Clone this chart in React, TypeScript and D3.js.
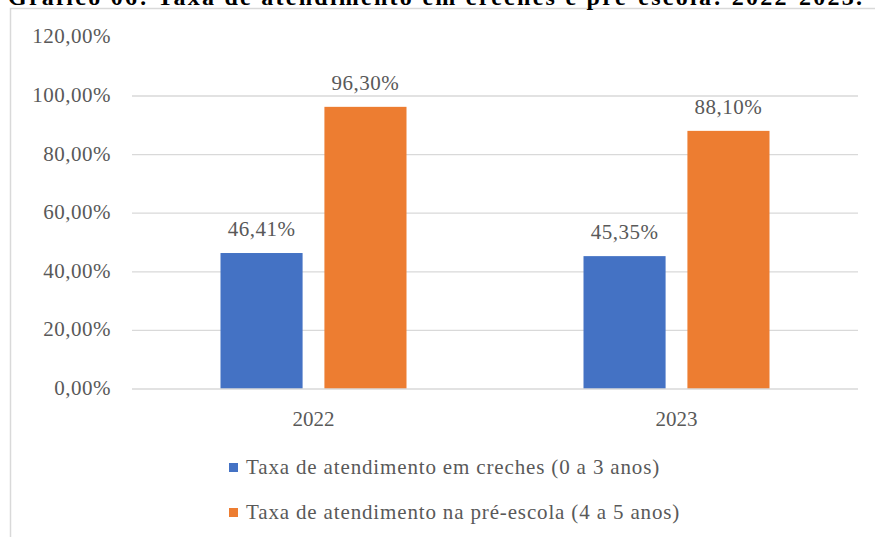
import React, { useRef, useEffect } from 'react';
import * as d3 from 'd3';

const years = ['2022', '2023'];
const series = ['Taxa de atendimento em creches (0 a 3 anos)', 'Taxa de atendimento na pré-escola (4 a 5 anos)'];
const creches = [46.41, 45.35];
const preEscola = [96.3, 88.1];
const yTicks = [0, 20, 40, 60, 80, 100, 120];
const colors = ['#4472C4', '#ED7D31'];
const title = 'Gráfico 06: Taxa de atendimento em creches e pré-escola: 2022-2023.';

const fmt = (v: number) => v.toFixed(2).replace('.', ',') + '%';

export default function App() {
  const svgRef = useRef<SVGSVGElement>(null);

  useEffect(() => {
    const svg = d3.select(svgRef.current);
    svg.selectAll('*').remove();
    const grey = '#595959';

    const left = 132, right = 858, top = 37.4, bottom = 389;
    const y = d3.scaleLinear().domain([0, 120]).range([bottom, top]);
    const x0 = d3.scaleBand().domain(years).range([left, right]);
    const x1 = d3.scaleBand().domain(['0', '1']).range([0, 186]).paddingInner(0.21);

    // frame
    svg.append('path').attr('d', 'M10.5,537 V8.5 H875').attr('fill', 'none').attr('stroke', '#D9D9D9').attr('stroke-width', 1.5);

    // title (cut off at top, as in the source page)
    svg.append('text').attr('class', 'ser').attr('x', 8).attr('y', 5).attr('font-weight', 'bold')
      .attr('font-size', 24).attr('fill', '#000').attr('textLength', 854).text(title);

    // grid
    svg.append('g').selectAll('line').data(yTicks.filter(t => t > 0 && t < 120)).join('line')
      .attr('x1', left).attr('x2', right).attr('y1', d => y(d)).attr('y2', d => y(d))
      .attr('stroke', '#D9D9D9').attr('stroke-width', 1.3);

    svg.append('g').selectAll('text').data(yTicks).join('text').attr('class', 'ser')
      .attr('x', 111).attr('y', d => y(d) + 6).attr('text-anchor', 'end')
      .attr('font-size', 21).attr('letter-spacing', 0.5).attr('fill', grey).text(d => fmt(d));

    const vals = [creches, preEscola];
    const g = svg.append('g');
    years.forEach((yr, i) => {
      const gx = (x0(yr) as number) + x0.bandwidth() / 2 - 93;
      vals.forEach((s, j) => {
        const bx = gx + (x1(String(j)) as number);
        g.append('rect').attr('x', bx).attr('y', y(s[i])).attr('width', x1.bandwidth())
          .attr('height', bottom - y(s[i])).attr('fill', colors[j]);
        g.append('text').attr('class', 'ser').attr('x', bx + x1.bandwidth() / 2).attr('y', y(s[i]) - 17)
          .attr('text-anchor', 'middle').attr('font-size', 21).attr('letter-spacing', 0.5)
          .attr('fill', grey).text(fmt(s[i]));
      });
    });

    // baseline
    svg.append('line').attr('x1', left).attr('x2', right).attr('y1', bottom).attr('y2', bottom)
      .attr('stroke', '#D9D9D9').attr('stroke-width', 1.3);

    svg.append('g').selectAll('text').data(years).join('text').attr('class', 'ser')
      .attr('x', d => (x0(d) as number) + x0.bandwidth() / 2).attr('y', 426)
      .attr('text-anchor', 'middle').attr('font-size', 21)
      .attr('fill', grey).text(d => d);

    // legend
    series.forEach((s, j) => {
      const ly = 467 + j * 45;
      svg.append('rect').attr('x', 229).attr('y', ly - 4).attr('width', 9).attr('height', 9).attr('fill', colors[j]);
      svg.append('text').attr('class', 'ser').attr('x', 246).attr('y', ly + 7).attr('font-size', 21)
        .attr('letter-spacing', 0.85).attr('fill', grey).text(s);
    });
  }, []);

  return (
    <>
      <style>{`.ser { font-family: "Liberation Serif", "Times New Roman", serif; }`}</style>
      <svg ref={svgRef} width={875} height={537} style={{ position: 'absolute', left: 0, top: 0, background: '#fff' }} />
    </>
  );
}
